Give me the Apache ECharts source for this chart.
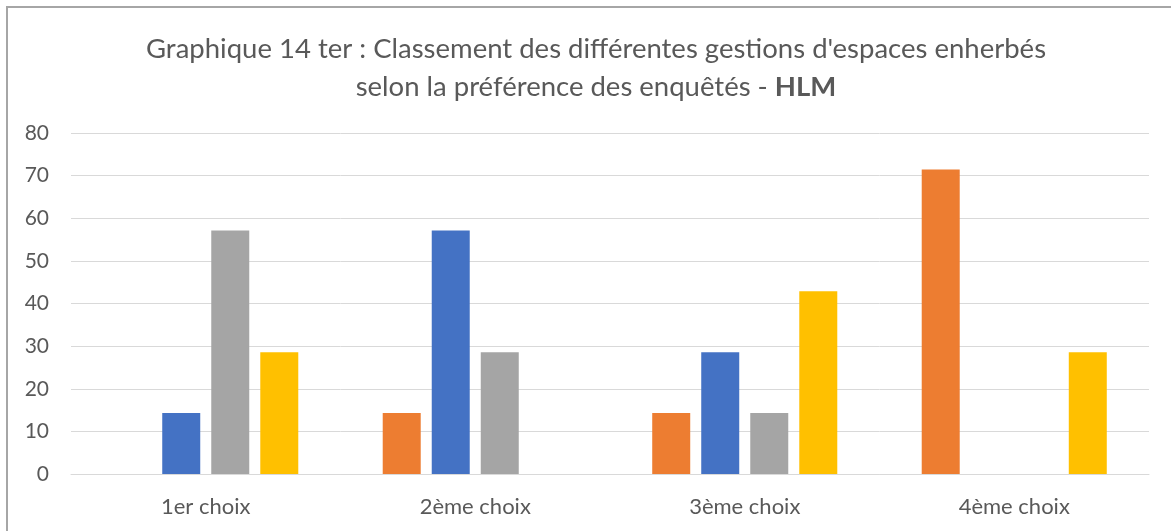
<!DOCTYPE html>
<html>
<head>
<meta charset="utf-8">
<script src="https://cdn.jsdelivr.net/npm/echarts@6/dist/echarts.min.js"></script>
<style>
html,body{margin:0;padding:0;background:#fff;}
#chart{width:1171px;height:531px;}
</style>
</head>
<body>
<div id="chart"></div>
<script>
const categories = ['1er choix', '2ème choix', '3ème choix', '4ème choix'];
const seriesNames = ['Série 1', 'Série 2', 'Série 3', 'Série 4'];
const orangeValues = [0, 14.29, 14.29, 71.43];
const blueValues = [14.29, 57.14, 28.57, 0];
const grayValues = [57.14, 28.57, 14.29, 0];
const yellowValues = [28.57, 0, 42.86, 28.57];
const seriesColors = ['#ED7D31', '#4472C4', '#A5A5A5', '#FFC000'];
const yTicks = [0, 10, 20, 30, 40, 50, 60, 70, 80];

const FONT = 'Lato, "Open Sans", sans-serif';
const TEXT = '#595959';

const chart = echarts.init(document.getElementById('chart'), null, {renderer: 'canvas'});
const allValues = [orangeValues, blueValues, grayValues, yellowValues];

chart.setOption({
  animation: false,
  backgroundColor: '#ffffff',
  textStyle: {fontFamily: FONT},
  title: {
    left: 591,
    top: 25,
    textAlign: 'center',
    text: '{n|Graphique 14 ter : Classement des différentes gestions d\'espaces enherbés}\n{n|selon la préférence des enquêtés - }{b|HLM}',
    textStyle: {
      fontWeight: 'normal',
      rich: {
        n: {fontFamily: FONT, fontSize: 27.5, color: TEXT, fontWeight: 'normal', lineHeight: 38},
        b: {fontFamily: FONT, fontSize: 27.5, color: TEXT, fontWeight: 'bold', lineHeight: 38}
      }
    }
  },
  graphic: [{
    type: 'rect',
    shape: {x: 7, y: 7, width: 1400, height: 800},
    style: {fill: 'none', stroke: '#A6A6A6', lineWidth: 2},
    silent: true
  }],
  grid: {left: 71, right: 22, top: 133, bottom: 57, containLabel: false},
  xAxis: {
    type: 'category',
    data: categories,
    axisLine: {lineStyle: {color: '#D9D9D9', width: 1}},
    axisTick: {show: false},
    axisLabel: {color: TEXT, fontFamily: FONT, fontSize: 22, margin: 22}
  },
  yAxis: {
    type: 'value',
    min: yTicks[0],
    max: yTicks[yTicks.length - 1],
    interval: 10,
    axisLine: {show: false},
    axisTick: {show: false},
    splitLine: {lineStyle: {color: '#D9D9D9', width: 1}},
    axisLabel: {color: TEXT, fontFamily: FONT, fontSize: 21, margin: 22}
  },
  series: allValues.map((vals, i) => ({
    name: seriesNames[i],
    type: 'bar',
    data: vals,
    barWidth: 38,
    barGap: '29%',
    itemStyle: {color: seriesColors[i]}
  }))
});
</script>
</body>
</html>
